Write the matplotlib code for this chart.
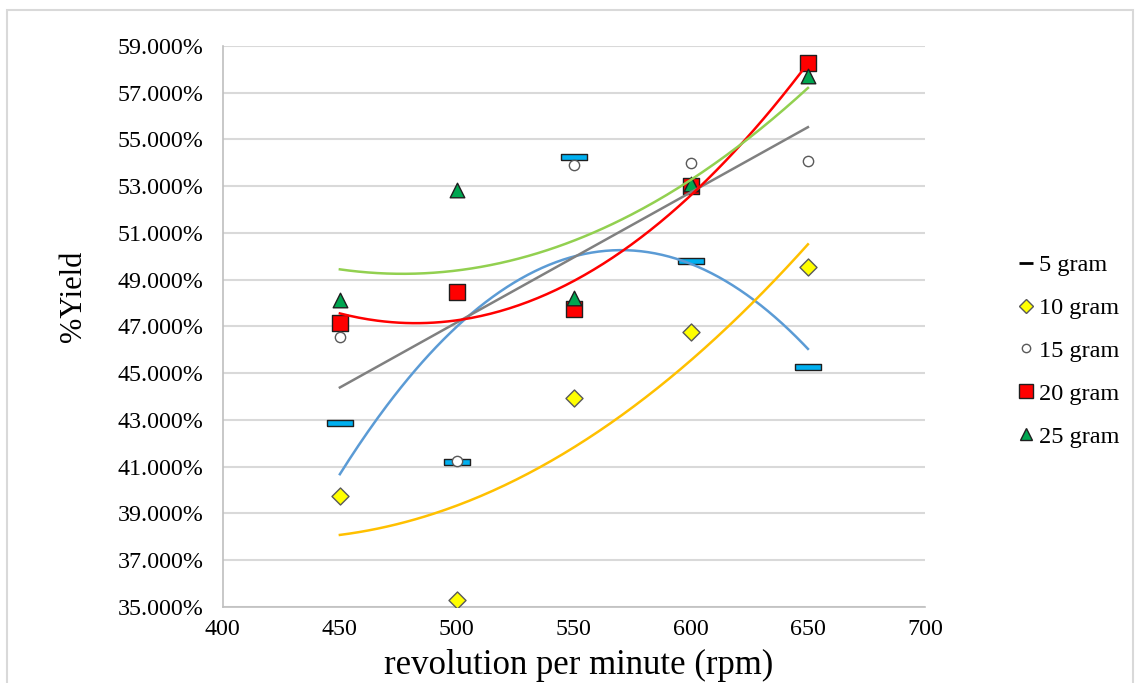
import numpy as np
import matplotlib
matplotlib.use("Agg")
import matplotlib.pyplot as plt
from matplotlib.lines import Line2D
from matplotlib.patches import Rectangle
from matplotlib.ticker import FuncFormatter

plt.rcParams['font.family'] = ['Liberation Serif', 'DejaVu Serif']

rpm = [450, 500, 550, 600, 650]
g5 = [42.87, 41.20, 54.25, 49.80, 45.27]
g10 = [39.75, 35.30, 43.94, 46.78, 49.55]
g15 = [46.55, 41.25, 53.90, 53.99, 54.10]
g20 = [47.15, 48.48, 47.75, 53.00, 58.27]
g25 = [48.13, 52.84, 48.22, 53.10, 57.70]
labels = ['5 gram', '10 gram', '15 gram', '20 gram', '25 gram']
yticks = list(range(35, 60, 2))
xticks = list(range(400, 701, 50))

fig = plt.figure(figsize=(11.37, 6.83), dpi=100)
ax = fig.add_axes([0.196, 0.1113, 0.6175, 0.8214])

# figure border
fig.patches.append(Rectangle((7/1137, -0.05), 1126/1137, 1.05 - 10/683, transform=fig.transFigure,
                             fill=False, edgecolor='#D9D9D9', linewidth=1.5, zorder=0))

x = np.array(rpm, dtype=float)
xs = np.linspace(450, 650, 200)

dash = [(-1, -0.2), (1, -0.2), (1, 0.2), (-1, 0.2), (-1, -0.2)]
ax.scatter(x, g5, marker=dash, s=28**2 / 2.2, facecolor='#00B0F0', edgecolor='#1F1F1F', linewidth=1.0, zorder=3)
ax.scatter(x, g10, marker='D', s=75, facecolor='#FFFF00', edgecolor='#595959', linewidth=1.0, zorder=3)
ax.scatter(x, g15, marker='o', s=55, facecolor='white', edgecolor='#595959', linewidth=1.0, zorder=4)
ax.scatter(x, g20, marker='s', s=145, facecolor='#FF0000', edgecolor='#1F1F1F', linewidth=1.0, zorder=3)
ax.scatter(x, g25, marker='^', s=110, facecolor='#00A651', edgecolor='#1F1F1F', linewidth=1.0, zorder=3)

def trend(y, deg, color):
    c = np.polyfit(x, y, deg)
    ax.plot(xs, np.polyval(c, xs), color=color, linewidth=1.8, zorder=5)

trend(g5, 2, '#5B9BD5')
trend(g10, 2, '#FFC000')
trend(g15, 1, '#808080')
trend(g20, 2, '#FF0000')
trend(g25, 2, '#92D050')

ax.set_xlim(400, 700)
ax.set_ylim(35, 59)
ax.set_xticks(xticks)
ax.set_yticks(yticks)
ax.yaxis.set_major_formatter(FuncFormatter(lambda v, p: f"{v:.3f}%"))
ax.tick_params(axis='y', labelsize=17.3, length=0, colors='black', pad=14)
ax.tick_params(axis='x', labelsize=17.3, length=0, colors='black', pad=9)
ax.grid(axis='y', color='#D9D9D9', linewidth=1.5)
ax.set_axisbelow(True)
for s in ['top', 'right']:
    ax.spines[s].set_visible(False)
for s in ['left', 'bottom']:
    ax.spines[s].set_color('#BFBFBF')
    ax.spines[s].set_linewidth(1.2)

fig.text(578.5/1137, 9/683, 'revolution per minute (rpm)', fontsize=25, ha='center', va='baseline')
fig.text(73/1137, 1 - 296.5/683, '%Yield', fontsize=22, rotation=90, ha='center', va='center')

handles = [
    Line2D([], [], linestyle='none', marker='_', markersize=10, markeredgewidth=2, color='black'),
    Line2D([], [], linestyle='none', marker='D', markersize=7, markerfacecolor='#FFFF00', markeredgecolor='#595959'),
    Line2D([], [], linestyle='none', marker='o', markersize=6, markerfacecolor='white', markeredgecolor='#595959'),
    Line2D([], [], linestyle='none', marker='s', markersize=10, markerfacecolor='#FF0000', markeredgecolor='#1F1F1F'),
    Line2D([], [], linestyle='none', marker='^', markersize=9, markerfacecolor='#00A651', markeredgecolor='#1F1F1F'),
]
fig.legend(handles, labels, loc='center left', bbox_to_anchor=(1016/1137, 1 - 351/683), frameon=False,
           fontsize=17.5, handletextpad=0.15, labelspacing=0.86, handlelength=0.8, borderaxespad=0,
           borderpad=0)

fig.savefig('out.png', dpi=100)
